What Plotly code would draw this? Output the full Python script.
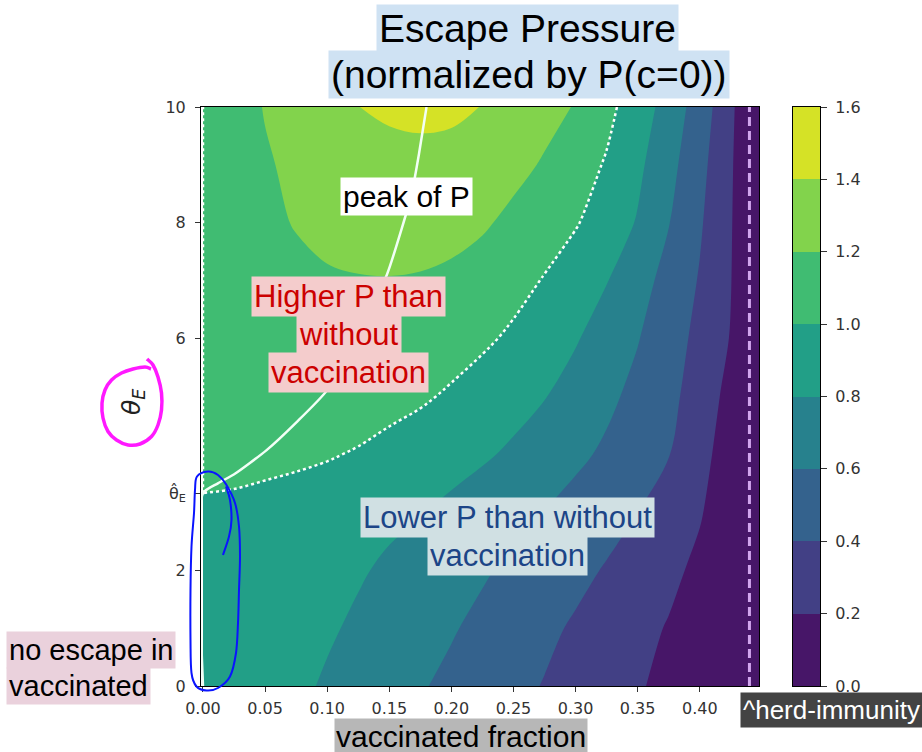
import plotly.graph_objects as go

# ---------------------------------------------------------------------------
# Escape pressure P(c, theta_E) / P(c = 0)
# columns: vaccinated fraction c, rows: escape threshold theta_E
# ---------------------------------------------------------------------------
frac = [0.0, 0.025, 0.05, 0.075, 0.1, 0.125, 0.15, 0.175, 0.2, 0.225,
        0.25, 0.275, 0.3, 0.325, 0.35, 0.375, 0.4, 0.425, 0.44, 0.45]
theta = [0, 1, 2, 3, 4, 5, 6, 7, 8, 9, 10]

p_theta0 = [0.99, 0.945, 0.89, 0.835, 0.78, 0.725, 0.67, 0.615, 0.56, 0.503,
            0.447, 0.391, 0.333, 0.275, 0.216, 0.157, 0.096, 0.036, 0.0, 0.0]
p_theta1 = [0.99, 0.955, 0.911, 0.866, 0.821, 0.773, 0.72, 0.667, 0.615, 0.557,
            0.498, 0.438, 0.378, 0.315, 0.253, 0.188, 0.116, 0.043, 0.0, 0.0]
p_theta2 = [0.99, 0.963, 0.927, 0.89, 0.854, 0.817, 0.773, 0.722, 0.671, 0.62,
            0.565, 0.506, 0.447, 0.386, 0.314, 0.243, 0.16, 0.06, 0.0, 0.0]
p_theta3 = [0.99, 0.973, 0.945, 0.918, 0.89, 0.863, 0.835, 0.808, 0.761, 0.707,
            0.652, 0.597, 0.532, 0.466, 0.4, 0.307, 0.215, 0.083, 0.0, 0.0]
p_theta4 = [1.02, 1.04, 1.045, 1.035, 1.015, 0.984, 0.944, 0.903, 0.863, 0.823,
            0.771, 0.705, 0.639, 0.568, 0.487, 0.406, 0.264, 0.103, 0.0, 0.0]
p_theta5 = [1.01, 1.06, 1.09, 1.105, 1.11, 1.10, 1.06, 1.025, 0.975, 0.919,
            0.863, 0.807, 0.725, 0.641, 0.548, 0.448, 0.316, 0.136, 0.0, 0.0]
p_theta6 = [1.01, 1.07, 1.11, 1.145, 1.165, 1.175, 1.165, 1.13, 1.08, 1.03,
            0.969, 0.892, 0.815, 0.715, 0.609, 0.485, 0.35, 0.19, 0.0, 0.0]
p_theta7 = [1.01, 1.075, 1.12, 1.155, 1.175, 1.187, 1.19, 1.18, 1.15, 1.11,
            1.06, 0.989, 0.898, 0.807, 0.676, 0.535, 0.386, 0.207, 0.0, 0.0]
p_theta8 = [1.01, 1.09, 1.16, 1.21, 1.26, 1.295, 1.31, 1.305, 1.28, 1.225,
            1.153, 1.083, 1.014, 0.907, 0.786, 0.607, 0.422, 0.217, 0.0, 0.0]
p_theta9 = [1.01, 1.1, 1.18, 1.24, 1.28, 1.31, 1.33, 1.34, 1.33, 1.30,
            1.255, 1.181, 1.085, 0.983, 0.84, 0.662, 0.458, 0.229, 0.0, 0.0]
p_theta10 = [1.01, 1.11, 1.21, 1.29, 1.35, 1.398, 1.435, 1.45, 1.44, 1.395,
             1.332, 1.263, 1.189, 1.05, 0.9, 0.725, 0.505, 0.253, 0.0, 0.0]

pressure = [p_theta0, p_theta1, p_theta2, p_theta3, p_theta4, p_theta5,
            p_theta6, p_theta7, p_theta8, p_theta9, p_theta10]

# contour levels 0.0 ... 1.6 and the fill colour of each band
levels = [0.0, 0.2, 0.4, 0.6, 0.8, 1.0, 1.2, 1.4, 1.6]
band_colors = ['#471668', '#424085', '#34628d', '#27818d',
               '#229f87', '#40bc72', '#82d34c', '#d5e226']

# threshold below which the vaccinated cannot be escaped
theta_hat = 3.33
# position of the maximum of P along c for each theta_E
peak_frac = [0.0, 0.0, 0.012, 0.026, 0.051, 0.075, 0.100, 0.125, 0.148, 0.160, 0.168, 0.174, 0.180]
peak_theta = [0.0, 3.33, 3.5, 3.67, 4.07, 4.55, 5.11, 6.1, 7.1, 7.9, 8.5, 9.2, 10.0]
# herd-immunity vaccination level
herd_frac = 0.44

x_ticks = [0.0, 0.05, 0.10, 0.15, 0.20, 0.25, 0.30, 0.35, 0.40]
y_ticks = [0, 2, theta_hat, 6, 8, 10]
y_ticktext = ['0', '2', 'θ̂<sub>E</sub>', '6', '8', '10']

# ---------------------------------------------------------------------------
W, H = 922, 752
ML, MR, MT, MB = 201, 52, 107, 66
PW, PH = W - ML - MR, H - MT - MB
MAIN_RIGHT = 759          # right edge of the contour panel (px)
CBAR_LEFT, CBAR_RIGHT = 793, 820


def paper(px, py):
    """pixel position -> paper coordinates"""
    return (px - ML) / PW, (H - MB - py) / PH


n = len(levels)
step = levels[1] - levels[0]
# stepped colour scale: contour fills sample band k at (k + 1) / n
cscale = [[0.0, band_colors[0]]]
for k, col in enumerate(band_colors):
    cscale.append([max((k + 0.5) / n, 0.0), col])
    cscale.append([min((k + 1.5) / n, 1.0), col])
cscale.append([1.0, band_colors[-1]])

# stepped colour scale for the colour bar strip (zmin=0, zmax=1.6)
nb = len(band_colors)
bar_scale = []
for k, col in enumerate(band_colors):
    bar_scale.append([k / nb, col])
    bar_scale.append([(k + 1) / nb, col])
band_mid = [(levels[k] + levels[k + 1]) / 2 for k in range(nb)]

tick_font = dict(family='DejaVu Sans', size=16, color='#333333')

fig = go.Figure()

fig.add_trace(go.Contour(
    x=frac, y=theta, z=pressure,
    autocontour=False,
    contours=dict(start=levels[0], end=levels[-1], size=step, coloring='fill',
                  showlines=False),
    colorscale=cscale, showscale=False,
    line=dict(width=0, smoothing=1.0),
    hoverinfo='skip',
))

# P = P(c=0) contour (dotted)
fig.add_trace(go.Contour(
    x=frac, y=theta, z=pressure,
    autocontour=False,
    contours=dict(start=1.0, end=1.0, size=step, coloring='none'),
    line=dict(color='white', width=2.5, dash='dot', smoothing=1.0),
    showscale=False, hoverinfo='skip',
))

# c = 0 edge above theta_hat (dotted)
fig.add_trace(go.Scatter(
    x=[0.0, 0.0], y=[theta_hat, theta[-1]], mode='lines',
    line=dict(color='white', width=2.5, dash='dot'),
    hoverinfo='skip', showlegend=False,
))

# peak of P
fig.add_trace(go.Scatter(
    x=peak_frac, y=peak_theta, mode='lines',
    line=dict(color='#f2fff6', width=2.5, shape='spline', smoothing=0.6),
    hoverinfo='skip', showlegend=False,
))

# herd immunity
fig.add_trace(go.Scatter(
    x=[herd_frac, herd_frac], y=[theta[0], theta[-1]], mode='lines',
    line=dict(color='#d2a6ee', width=3, dash='9px,5px'),
    hoverinfo='skip', showlegend=False,
))

# colour bar strip
fig.add_trace(go.Heatmap(
    x=[0], y=band_mid, z=[[v] for v in band_mid],
    colorscale=bar_scale, zmin=levels[0], zmax=levels[-1],
    showscale=False, hoverinfo='skip',
    xaxis='x2', yaxis='y2',
))

axis_common = dict(ticks='outside', ticklen=5, tickcolor='#333333',
                   tickfont=tick_font, showline=True, linecolor='black',
                   linewidth=1, mirror=True, showgrid=False, zeroline=False)

fig.update_layout(
    width=W, height=H,
    margin=dict(l=ML, r=MR, t=MT, b=MB, pad=0),
    paper_bgcolor='white', plot_bgcolor='white',
    showlegend=False,
    xaxis=dict(domain=[0, (MAIN_RIGHT - ML) / PW],
               range=[-0.0016, 0.4477], tickmode='array', tickvals=x_ticks,
               ticktext=[f'{v:.2f}' for v in x_ticks],
               ticklabelstandoff=3, **axis_common),
    yaxis=dict(range=[0, 10], tickmode='array', tickvals=y_ticks,
               ticktext=y_ticktext, ticklabelstandoff=6, **axis_common),
    xaxis2=dict(domain=[(CBAR_LEFT - ML) / PW, (CBAR_RIGHT - ML) / PW],
                anchor='y2', range=[-0.5, 0.5], showticklabels=False,
                ticks='', showline=True, linecolor='black', linewidth=1,
                mirror=True, showgrid=False, zeroline=False),
    yaxis2=dict(domain=[0, 1], anchor='x2', side='right',
                range=[levels[0], levels[-1]], tickmode='array',
                tickvals=levels, ticktext=[f'{v:.1f}' for v in levels],
                ticklen=6, ticklabelstandoff=5,
                **{k: v for k, v in axis_common.items() if k != 'ticklen'}),
)


def label(text, px, py, size, color, bg, anchor='center', angle=0,
          family='Liberation Sans, Arial', pad=2):
    x, y = paper(px, py)
    fig.add_annotation(
        text=text, x=x, y=y, xref='paper', yref='paper',
        xanchor=anchor, yanchor='middle', showarrow=False,
        font=dict(family=family, size=size, color=color),
        bgcolor=bg, borderpad=pad, textangle=angle,
    )


label('Escape Pressure', 527.5, 28, 39, 'black', '#cfe2f3')
label('(normalized by P(c=0))', 529, 74, 39, 'black', '#cfe2f3')
label('peak of P', 406, 196, 30, 'black', 'white')
label('Higher P than', 348.5, 296, 31, '#cc0000', '#f4cccc')
label('without', 349, 334, 31, '#cc0000', '#f4cccc')
label('vaccination', 348.5, 372, 31, '#cc0000', '#f4cccc')
label('Lower P than without', 507.5, 517, 31, '#1c4587', '#d0e0e3')
label('vaccination', 507.5, 555, 31, '#1c4587', '#d0e0e3')
label('no escape in', 6, 650, 29, 'black', '#ead1dc', anchor='left')
label('vaccinated', 6, 686, 29, 'black', '#ead1dc', anchor='left')
label('^herd-immunity', 740, 710, 26, 'white', '#434343', anchor='left')
label('vaccinated fraction', 461, 736, 30, 'black', '#b7b7b7', pad=1)
label('<i>θ</i><sub><i>E</i></sub>', 133, 402, 25, '#222222', 'rgba(0,0,0,0)',
      angle=-90, family='DejaVu Sans')


def smooth_path(points, closed):
    """Catmull-Rom curve through pixel points, as an SVG path in paper units."""
    pts = [paper(px, py) for px, py in points]
    m = len(pts)

    def p(i):
        if closed:
            return pts[i % m]
        return pts[min(max(i, 0), m - 1)]

    d = f'M{pts[0][0]:.5f},{pts[0][1]:.5f}'
    segs = m if closed else m - 1
    for i in range(segs):
        p0, p1, p2, p3 = p(i - 1), p(i), p(i + 1), p(i + 2)
        c1 = (p1[0] + (p2[0] - p0[0]) / 6, p1[1] + (p2[1] - p0[1]) / 6)
        c2 = (p2[0] - (p3[0] - p1[0]) / 6, p2[1] - (p3[1] - p1[1]) / 6)
        d += (f' C{c1[0]:.5f},{c1[1]:.5f} {c2[0]:.5f},{c2[1]:.5f} '
              f'{p2[0]:.5f},{p2[1]:.5f}')
    if closed:
        d += ' Z'
    return d


# hand-drawn highlight around the axis title
pink_loop = [(147, 359), (153, 365), (158, 377), (161.5, 393), (161.5, 410),
             (158, 425), (151.5, 436.5), (140, 444), (128, 445), (116.5, 440),
             (108, 431.5), (103, 418), (102, 403), (105, 390), (111.5, 380),
             (121.5, 373), (133, 369), (145, 367), (151, 369)]
# hand-drawn highlight around the c = 0 column
blue_loop = [(197, 476.5), (208, 471.5), (218, 475), (226.5, 485), (235, 503),
             (239, 526.5), (240, 556.5), (239, 590), (238, 623), (236, 653),
             (230, 676.5), (218, 688), (206.5, 690.5), (196.5, 686.5),
             (191.5, 673), (190.5, 640), (190.5, 590), (191.5, 546.5),
             (194, 513), (195, 490)]
blue_hook = [(226, 486.5), (230, 500), (231.5, 520), (229, 536.5), (223, 555)]

fig.add_shape(type='path', xref='paper', yref='paper', layer='above',
              path=smooth_path(pink_loop, closed=False),
              line=dict(color='#ff19ff', width=3.5))
fig.add_shape(type='path', xref='paper', yref='paper', layer='above',
              path=smooth_path(blue_loop, closed=True),
              line=dict(color='#0a14ff', width=2))
fig.add_shape(type='path', xref='paper', yref='paper', layer='above',
              path=smooth_path(blue_hook, closed=False),
              line=dict(color='#0a14ff', width=2))

fig.write_html('out.html')
